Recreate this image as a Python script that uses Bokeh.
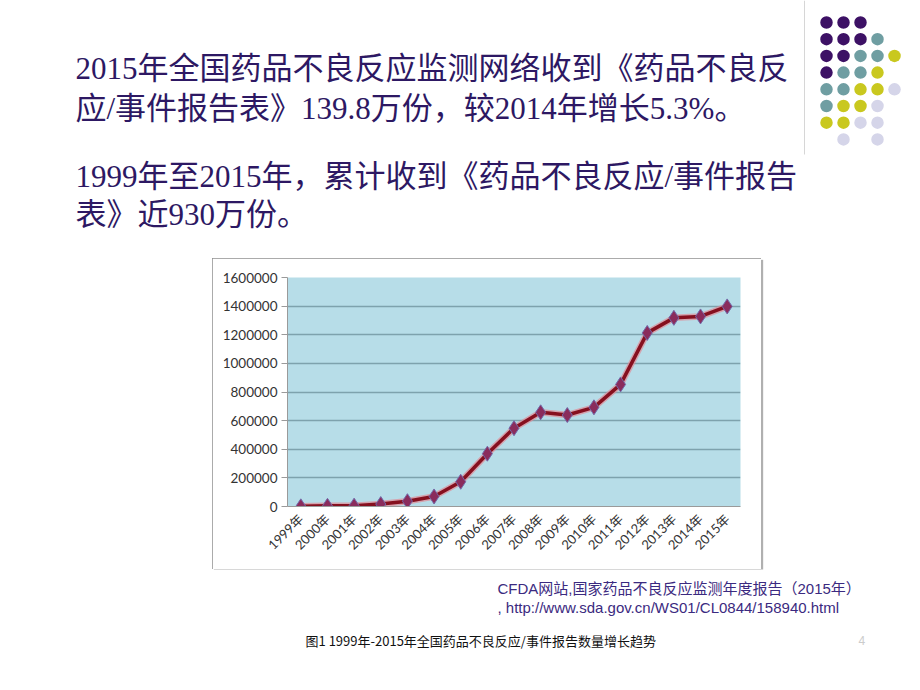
import numpy as np
from bokeh.plotting import figure
from bokeh.models import Range1d, FactorRange, FixedTicker, PrintfTickFormatter, ColumnDataSource, Spacer
from bokeh.layouts import column, row
from bokeh.core.properties import value
from bokeh.embed import file_html
from bokeh.resources import INLINE

# ---------------- data ----------------
years = ["1999年", "2000年", "2001年", "2002年", "2003年", "2004年", "2005年", "2006年",
         "2007年", "2008年", "2009年", "2010年", "2011年", "2012年", "2013年", "2014年", "2015年"]
reports = [1000, 4500, 6000, 17000, 37000, 70000, 173000, 369000, 547000, 658000,
           639000, 693000, 853000, 1213000, 1318000, 1328000, 1398000]
y_ticks = [0, 200000, 400000, 600000, 800000, 1000000, 1200000, 1400000, 1600000]

header_lines = ["2015年全国药品不良反应监测网络收到《药品不良反",
                "应/事件报告表》139.8万份，较2014年增长5.3%。",
                "1999年至2015年，累计收到《药品不良反应/事件报告",
                "表》近930万份。"]
source_lines = ["CFDA网站,国家药品不良反应监测年度报告（2015年）",
                ", http://www.sda.gov.cn/WS01/CL0844/158940.html"]
caption = "图1 1999年-2015年全国药品不良反应/事件报告数量增长趋势"
page_no = "4"

# decorative dot pattern (row by row, "" = empty)
dot_rows = [
    ["P", "P", "P", "", ""],
    ["P", "P", "P", "T", ""],
    ["P", "P", "T", "T", "Y"],
    ["P", "T", "T", "Y", ""],
    ["T", "T", "Y", "Y", "L"],
    ["T", "Y", "Y", "L", ""],
    ["Y", "Y", "L", "L", ""],
    ["", "L", "", "L", ""],
]
dot_colors = {"P": "#3d1165", "T": "#6f9ea2", "Y": "#c9c81f", "L": "#d5d5e9"}

SERIF = value("Liberation Serif, Noto Sans CJK SC")
SANS = value("Liberation Sans, Noto Sans CJK SC")
CJK = value("Noto Sans CJK SC")
TEXT_PURPLE = "#2d1863"

# ---------------- header ----------------
W = 920
H_HEAD = 258
head = figure(width=W, height=H_HEAD, x_range=Range1d(0, W), y_range=Range1d(H_HEAD, 0),
              output_backend="svg", toolbar_location=None, min_border=0)
head.axis.visible = False
head.grid.visible = False
head.outline_line_color = None
head.background_fill_color = "white"
head.border_fill_color = "white"

head.text(x=[75] * 4, y=[68, 108, 176, 214], text=header_lines,
          text_font=SERIF, text_font_size="31px", text_color=TEXT_PURPLE,
          text_baseline="middle", text_align="left")

dx, dy = [], []
dc = []
for ri, r in enumerate(dot_rows):
    for ci, c in enumerate(r):
        if c:
            dx.append(826 + 17 * ci)
            dy.append(22 + 16.7 * ri)
            dc.append(dot_colors[c])
head.scatter(x=dx, y=dy, size=12.5, color=dc, line_color=None)
head.segment(x0=[804], y0=[0], x1=[804], y1=[154], line_color="#d6d6d6", line_width=1)

# ---------------- chart ----------------
CH_W, CH_H = 549, 311
chart = figure(width=CH_W, height=CH_H, x_range=FactorRange(*years), y_range=Range1d(0, 1600000),
               output_backend="svg", toolbar_location=None,
               min_border_left=75, min_border_right=21, min_border_top=19, min_border_bottom=63,
               styles={"outline": "1px solid #8f8f8f", "outline-offset": "-1px",
                       "box-shadow": "2px 2px 1px #b0b0b0"})
chart.background_fill_color = "#b7dde8"
chart.border_fill_color = "white"
chart.outline_line_color = None
chart.xgrid.visible = False
chart.ygrid.grid_line_color = "#7ea2ad"
chart.ygrid.grid_line_width = 1.3

chart.yaxis.ticker = FixedTicker(ticks=y_ticks)
chart.yaxis.formatter = PrintfTickFormatter(format="%d")
chart.yaxis.major_label_text_font = "Lato"
chart.yaxis.major_label_text_font_size = "13.5px"
chart.yaxis.major_label_text_color = "#333333"
chart.yaxis.major_tick_out = 6
chart.yaxis.major_tick_in = 0
chart.yaxis.minor_tick_line_color = None
chart.yaxis.major_tick_line_color = "#9a9a9a"
chart.yaxis.axis_line_color = "#9a9a9a"
chart.yaxis.major_label_standoff = 4

chart.xaxis.major_label_orientation = np.pi / 4
chart.xaxis.major_label_text_font = "Lato, Noto Sans CJK SC"
chart.xaxis.major_label_text_font_size = "13px"
chart.xaxis.major_label_text_color = "#333333"
chart.xaxis.major_tick_line_color = None
chart.xaxis.axis_line_color = "#9a9a9a"
chart.xaxis.major_label_standoff = 4

src = ColumnDataSource(dict(year=years, n=reports))
chart.line("year", "n", source=src, line_color="#e08a95", line_width=6.5, line_alpha=0.7)
chart.line("year", "n", source=src, line_color="#86101f", line_width=3.5)
chart.scatter("year", "n", source=src, marker="diamond", size=15,
              fill_color="#8a2c5c", line_color="#7468a8", line_width=1)

# ---------------- footer ----------------
H_FOOT = 690 - H_HEAD - CH_H
Y0 = H_HEAD + CH_H
foot = figure(width=W, height=H_FOOT, x_range=Range1d(0, W), y_range=Range1d(690, Y0),
              output_backend="svg", toolbar_location=None, min_border=0)
foot.axis.visible = False
foot.grid.visible = False
foot.outline_line_color = None
foot.background_fill_color = "white"
foot.border_fill_color = "white"

foot.text(x=[497, 497], y=[588, 607], text=source_lines, text_font=SANS,
          text_font_size="15px", text_color="#3b2a80", text_baseline="middle")
foot.text(x=[305], y=[640], text=[caption], text_font=CJK, text_font_size="13px",
          text_color="#111111", text_baseline="middle")
foot.text(x=[858], y=[640], text=[page_no], text_font=SANS, text_font_size="12px",
          text_color="#cccccc", text_baseline="middle")

layout = column(head, row(Spacer(width=212, height=CH_H), chart, Spacer(width=W - 212 - CH_W, height=CH_H)), foot)

open("out.html", "w").write(file_html(layout, INLINE))
